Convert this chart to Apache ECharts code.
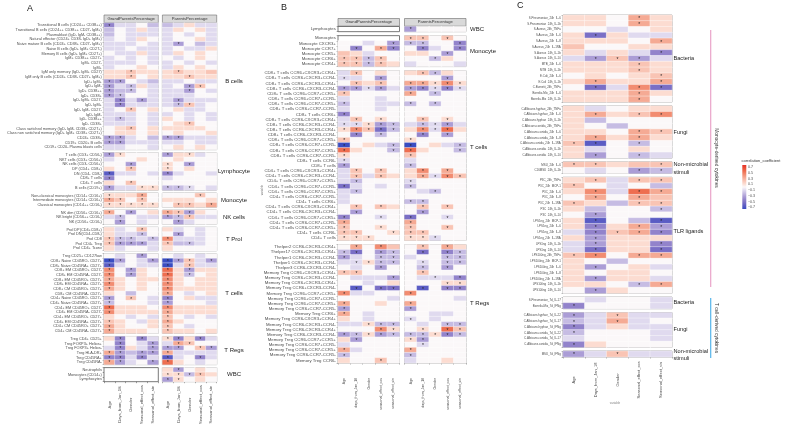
<!DOCTYPE html>
<html>
<head>
<meta charset="utf-8">
<script src="https://cdn.jsdelivr.net/npm/echarts@6/dist/echarts.min.js"></script>
<style>
html,body{margin:0;padding:0;background:#fff}
#chart{width:795px;height:428px}
</style>
</head>
<body>
<div id="chart"></div>
<script>
// correlation heatmaps (values in tenths of the coefficient, "*" = significant)
const colsA = ['Age', 'Days_from_Jan_18', 'Gender', 'Seasonal_effect_cos', 'Seasonal_effect_sin'];
const colsB = ['Age', 'days_from_Jan_18', 'Gender', 'seasonal_effect_cos', 'seasonal_effect_sin'];
const colsC = ['Age', 'Days_from_Jan_18', 'Gender', 'Seasonal_effect_cos', 'Seasonal_effect_sin'];
const legendTicks = [0.7, 0.5, 0.3, 0.1, -0.1, -0.3, -0.5, -0.7];
const N = null;

// ---------- panel A ----------
const aBcellRows = ['Transitional B cells (CD24++ CD38++)', 'Transitional B cells (CD24++ CD38++ CD27- IgM+)', 'Plasmablast (IgD- IgM- CD38++)', 'Natural effector (CD24+ CD38- IgD+ IgM+)', 'Naive mature B cells (CD24+ CD38+ CD27- IgM+)', 'Naive B cells (IgD+ IgM+ CD27-)', 'Memory B cells (IgD+ IgM+ CD27+)', 'IgM+ CD38++ CD27+', 'IgM+ CD27-', 'IgM+', 'IgM only memory (IgD- IgM+ CD27)', 'IgM only B cells (CD24+ CD38- CD27+ IgM+)', 'IgD+ IgM+', 'IgD+ IgM-', 'IgD+ CD38++', 'IgD+ CD38+', 'IgD- IgM+ CD27-', 'IgD- IgM+', 'IgD- IgM- CD27-', 'IgD- IgM-', 'IgD- CD38++', 'IgD- CD38+', 'Class switched memory (IgD- IgM- CD38+ CD27+)', 'Class non switched memory (IgD+ IgM+ CD38+ CD27+)', 'CD24+ CD38+', 'CD19+ CD20+ B cells', 'CD19+ CD20- Plasma blasts cells'];
const aBcellGP = [[-4,-1,-1,0,-2],[-2,0,-1,1,-1],[-2,0,-1,-1,-1],[-1,0,-1,1,0],[-1,-1,-1,0,-1],[-1,-1,0,-1,-1],[0,-1,-1,1,-1],[-1,0,-1,0,-1],[-1,-1,-1,0,-1],[-1,0,0,1,0],[1,1,2,1,1],[1,1,2,0,1],[-3,-3,0,-1,-2],[-3,-1,-2,1,-1],[-3,-2,-2,0,-1],[-3,-2,0,0,-1],[-1,-4,-1,-3,-1],[-1,-4,-1,-1,-1],[-1,0,2,0,1],[-1,-1,-1,0,-1],[-1,-2,-1,0,-1],[-1,-1,-1,0,-1],[0,1,2,0,1],[0,1,1,0,1],[-3,-3,-1,0,-2],[-3,-3,-1,-1,-1],[-1,-1,0,0,-1]];
const aBcellGPSig = ['*....','.....','.....','.....','.....','.....','.....','.....','.....','.....','..*..','..*..','**...','*.*..','*.*..','**...','.*.*.','.*...','..*..','.....','.*...','.....','..*..','.....','**...','**...','.....'];
const aBcellPP = [[-2,-1,1,-1,-1],[-1,1,0,1,-1],[-1,0,-1,0,-1],[-1,0,0,1,-1],[-1,-3,0,-2,-1],[-1,0,-1,-1,1],[-1,1,0,1,0],[0,-1,0,1,0],[-1,0,-1,0,-1],[-1,1,0,1,0],[1,2,1,1,2],[1,1,2,1,1],[-1,-1,0,-1,-1],[-1,0,-3,2,0],[-1,-1,-3,0,-1],[-1,-1,-1,0,0],[-1,-3,-1,-1,-1],[-1,-2,2,-1,0],[0,1,-1,-1,0],[-1,0,-1,0,-1],[1,0,-1,0,-1],[0,1,2,0,0],[1,1,1,1,0],[0,1,0,0,1],[-3,-3,-1,-1,-1],[-1,-1,0,-1,-1],[0,1,0,1,0]];
const aBcellPPSig = ['.....','.....','.....','.....','.*...','.....','.....','.....','.....','.....','.*...','..*..','.....','..**.','..*..','.....','.*...','.**..','.....','.....','.....','..*..','.....','.....','**...','.....','.....'];

const aLymphRows = ['T cells (CD3+ CD56-)', 'NKT cells (CD3+ CD56+)', 'NK cells (CD3- CD56+)', 'DP (CD4+ CD8+)', 'DN (CD4- CD8-)', 'CD8+ T cells', 'CD4+ T cells', 'B cells (CD19+)'];
const aLymphGP = [[-3,1,0,0,0],[-1,0,0,1,0],[0,0,-3,0,0],[1,0,2,0,0],[-6,-1,-1,0,-1],[-4,0,0,0,0],[1,0,2,0,0],[-3,-1,-1,1,1]];
const aLymphGPSig = ['**...','.....','..*..','..*..','*....','*....','..*..','*..**'];
const aLymphPP = [[-3,1,1,-1,0],[0,1,0,0,0],[1,0,-3,0,0],[1,0,1,0,0],[-4,-1,0,0,-1],[-1,0,0,0,0],[0,0,0,0,0],[-2,-2,-1,0,-1]];
const aLymphPPSig = ['*.*..','.....','*.*..','*....','*....','.....','.....','***..'];

const aMonoRows = ['Non-classical monocytes (CD14+ CD16+)', 'Intermediate monocytes (CD14+ CD16+)', 'Classical monocytes (CD14++ CD16-)'];
const aMonoGP = [[1,1,1,3,0],[3,2,0,2,0],[1,1,1,1,1]];
const aMonoGPSig = ['*..*.','**.*.','*****'];
const aMonoPP = [[0,0,0,2,0],[1,1,1,0,1],[0,2,2,1,3]];
const aMonoPPSig = ['...*.','.....','.**.*'];

const aNKRows = ['NK dim (CD56+ CD16+)', 'NK bright (CD56++ CD16-)', 'NK (CD56+ CD16-)'];
const aNKGP = [[3,0,-3,0,1],[-1,-2,0,-1,-1],[0,-3,0,-1,0]];
const aNKGPSig = ['*.*..','.*...','.*...'];
const aNKPP = [[3,2,-3,1,0],[-3,-2,2,-1,-1],[0,-3,-1,0,0]];
const aNKPPSig = ['***..','***..','.*...'];

const aProlRows = ['Prol DP(CD4+CD8+)', 'Prol DN(CD4-CD8-)', 'Prol CD8', 'Prol CD4+ Treg', 'Prol CD4+ Tconv'];
const aProlGP = [[1,-1,0,2,0],[1,-1,-1,-2,0],[2,-2,-2,-1,-2],[2,-3,-3,-3,-1],[1,-1,0,0,-1]];
const aProlGPSig = ['...*.','...*.','***.*','****.','.....'];
const aProlPP = [[1,-1,0,-1,0],[0,-3,0,-1,0],[4,-1,-1,-1,0],[2,-2,-2,-1,0],[1,0,0,0,0]];
const aProlPPSig = ['.....','.*...','*....','*.*..','.....'];

const aTcellRows = ['Treg CD25+ CD127low', 'CD8+ Naive CD45RO- CD27+', 'CD8+ Naive CD45RA+ CD27+', 'CD8+ EM CD45RO+ CD27-', 'CD8+ EM CD45RA- CD27-', 'CD8+ EM CD45RO+ CD27+', 'CD8+ EM CD45RA+ CD27+', 'CD8+ CM CD45RO+ CD27+', 'CD8+ CM CD45RA- CD27+', 'CD4+ Naive CD45RO- CD27+', 'CD4+ Naive CD45RA+ CD27+', 'CD4+ EM CD45RO+ CD27-', 'CD4+ EM CD45RA- CD27-', 'CD4+ EM CD45RO+ CD27+', 'CD4+ EM CD45RA+ CD27+', 'CD4+ CM CD45RO+ CD27+', 'CD4+ CM CD45RA- CD27+'];
const aTcellGP = [[0,-1,0,-3,0],[-7,-3,0,-1,-3],[-6,-1,0,-1,-1],[4,0,-3,1,0],[4,0,-3,1,0],[3,1,0,1,1],[4,1,0,1,0],[3,1,0,1,0],[1,0,-2,0,0],[-3,0,2,0,-1],[-2,0,0,0,-1],[5,1,1,1,0],[4,1,1,1,1],[1,0,-1,0,-1],[2,1,0,-1,1],[3,1,0,0,1],[3,1,1,1,0]];
const aTcellGPSig = ['...*.','**..*','*....','*.*..','*.*..','*....','*....','*....','.....','*.*..','*....','*....','*....','.....','*....','*....','*....'];
const aTcellPP = [[0,-1,0,-1,0],[-7,-3,2,-1,-3],[-7,-1,2,-1,-1],[5,1,-3,1,1],[5,1,-2,0,1],[4,1,0,1,1],[4,1,0,1,1],[4,1,1,1,1],[3,0,-1,0,1],[-4,0,1,-1,-1],[-3,0,0,0,-1],[4,1,1,1,1],[3,1,1,1,1],[2,0,-1,0,-1],[3,1,0,0,0],[2,0,-1,0,0],[2,1,1,0,1]];
const aTcellPPSig = ['.....','***.*','*.*..','*.*..','*.*..','*....','*....','*....','*....','*....','*....','*....','*....','*....','*....','*....','*....'];

const aTregRows = ['Treg CD4+ CD25+', 'Treg FOXP3+ Helios+', 'Treg FOXP3+ Helios-', 'Treg HLA-DR+', 'Treg CD45RA+', 'Treg CD45RA-'];
const aTregGP = [[1,-4,0,-4,-1],[0,-4,0,-1,-3],[-1,-4,1,-1,-3],[3,-3,-2,-3,-3],[-4,-4,-1,-4,-1],[3,-3,-1,0,-3]];
const aTregGPSig = ['.*.*.','.*..*','.*..*','**.**','**.*.','**..*'];
const aTregPP = [[1,-4,1,-4,-1],[-1,3,2,0,0],[-3,-3,0,2,-3],[3,-1,-1,-1,-1],[-6,-1,0,-4,-1],[5,1,0,-1,0]];
const aTregPPSig = ['**.*.','.**..','**.**','*....','*..*.','*....'];

const aWbcRows = ['Neutrophils', 'Monocytes (CD14+)', 'Lymphocytes'];
const aWbcGP = [[N,N,N,N,N],[N,N,N,N,N],[N,N,N,N,N]];
const aWbcPP = [[1,-3,0,1,0],[1,1,-2,2,1],[-3,1,0,1,0]];
const aWbcPPSig = ['.*...','****.','**...'];

// ---------- panel B ----------
const bWbcRows = ['Lymphocytes'];
const bWbcGP = [[N,N,N,N,N]];
const bWbcPP = [[-3,0,0,0,0]];
const bWbcPPSig = ['*....'];

const bMonoRows = ['Monocytes', 'Monocyte CXCR3+', 'Monocyte CCR7+', 'Monocyte CCR5+', 'Monocyte CCR6+', 'Monocyte CCR4+'];
const bMonoGP = [[N,N,N,N,N],[0,0,-1,0,-3],[0,-4,0,3,-4],[2,1,-1,0,0],[2,2,-2,2,0],[2,2,-2,2,1]];
const bMonoGPSig = ['.....','....*','.*.**','.....','****.','****.'];
const bMonoPP = [[2,2,0,2,0],[-2,-2,0,0,-4],[0,-4,-1,0,-4],[1,1,0,-3,0],[0,0,-2,1,0],[-1,0,0,0,-1]];
const bMonoPPSig = ['**.*.','**..*','.*..*','...*.','..*..','.....'];

const bTcellRows = ['CD8+ T cells CCR6+CXCR3+CCR4+', 'CD8+ T cells CCR6+CXCR3+CCR4-', 'CD8+ T cells CCR6+CXCR3-CCR4+', 'CD8+ T cells CCR6+CXCR3-CCR4-', 'CD8+ T cells CCR6+CCR7+CCR5+', 'CD8+ T cells CCR6+CCR7+CCR5-', 'CD8+ T cells CCR6+CCR7-CCR5+', 'CD8+ T cells CCR6+CCR7-CCR5-', 'CD8+ T cells CCR6+', 'CD8+ T cells CCR6-CXCR3+CCR4+', 'CD8+ T cells CCR6-CXCR3+CCR4-', 'CD8+ T cells CCR6-CXCR3-CCR4+', 'CD8+ T cells CCR6-CXCR3-CCR4-', 'CD8+ T cells CCR6-CCR7+CCR5+', 'CD8+ T cells CCR6-CCR7+CCR5-', 'CD8+ T cells CCR6-CCR7-CCR5+', 'CD8+ T cells CCR6-CCR7-CCR5-', 'CD8+ T cells CCR6-', 'CD8+ T cells', 'CD4+ T cells CCR6+CXCR3+CCR4+', 'CD4+ T cells CCR6+CXCR3+CCR4-', 'CD4+ T cells CCR6+CCR7+CCR5+', 'CD4+ T cells CCR6+CCR7+CCR5-', 'CD4+ T cells CCR6+CCR7-CCR5+', 'CD4+ T cells CCR6+CCR7-CCR5-', 'CD4+ T cells CCR6+', 'CD4+ T cells CCR6-CXCR3+CCR4+', 'CD4+ T cells CCR6-CXCR3+CCR4-', 'CD4+ T cells CCR6-CCR7+CCR5+', 'CD4+ T cells CCR6-CCR7+CCR5-', 'CD4+ T cells CCR6-CCR7-CCR5+', 'CD4+ T cells CCR6-', 'CD4+ T cells'];
const bTcellGP = [[-1,2,0,1,0],[-1,-1,0,-3,0],[0,2,1,2,0],[-3,-3,-1,-3,-1],[2,0,0,0,0],[-1,0,0,-1,0],[-2,0,0,-1,-1],[-1,0,0,-1,0],[-4,0,0,0,0],[-1,2,0,1,0],[-1,-1,1,-3,-2],[1,4,2,-5,-2],[0,-4,0,-2,0],[2,0,0,0,0],[-7,0,1,-1,-2],[5,1,0,0,-2],[1,0,0,0,0],[-1,0,0,0,0],[-3,0,0,0,0],[-1,2,0,2,0],[-1,2,-1,2,1],[-1,-2,0,0,0],[-5,-1,0,-1,0],[-1,-2,0,0,0],[-1,0,0,0,0],[-1,0,0,0,0],[0,2,0,2,1],[0,-3,0,0,0],[-4,0,0,-1,0],[3,0,0,0,0],[2,0,0,1,0],[2,2,0,0,1],[1,1,1,0,0]];
const bTcellGPSig = ['.*...','*..*.','.*.*.','****.','*....','.....','*....','.....','*....','.*.*.','*****','*****','.*.*.','*....','*...*','*...*','*....','*....','*....','.*.*.','.*.*.','.*...','*....','.*...','.....','.....','.*.*.','.*...','*..*.','*....','*..*.','**..*','***..'];
const bTcellPP = [[1,2,-2,1,0],[0,0,0,-3,0],[3,3,1,4,1],[-3,-4,-1,-4,-1],[3,0,-2,0,0],[0,0,0,0,0],[-2,0,-2,0,0],[0,0,0,0,0],[0,0,0,0,0],[0,2,0,1,0],[-1,-2,-1,-3,-1],[1,4,-1,5,1],[0,-4,0,-3,0],[1,0,0,0,0],[-7,0,1,-1,-2],[5,1,0,0,-2],[2,0,0,0,0],[-1,0,0,0,0],[-2,0,0,0,0],[1,4,0,3,0],[1,3,-1,4,2],[-1,0,0,0,0],[-2,0,0,0,0],[0,-1,-2,0,0],[0,0,0,0,0],[-2,-2,0,0,0],[0,2,0,2,0],[0,-3,0,0,0],[-5,0,0,-1,0],[3,0,0,0,0],[2,0,0,2,0],[2,2,0,0,0],[1,1,-1,0,0]];
const bTcellPPSig = ['.**..','...*.','*****','*****','*.*..','.....','*.*..','.....','.....','.*.*.','.***.','.***.','.*.*.','*....','*...*','*...*','*....','.....','*....','.*.*.','.****','*....','*....','..*..','.....','**...','.*.*.','.*...','*..*.','*....','*..*.','**...','***..'];

const bTregRows = ['Thelper2 CCR6-CXCR3-CCR4+', 'Thelper17 CCR6+CXCR3-CCR4+', 'Thelper1 CCR6-CXCR3+CCR4-', 'Thelper1 CCR6+CXCR3+CCR4-', 'Thelper3 CCR6-CXCR3-CCR4-', 'Memory Treg CCR6+CXCR3+CCR4+', 'Memory Treg CCR6+CXCR3+CCR4-', 'Memory Treg CCR6+CXCR3-CCR4+', 'Memory Treg CCR6+CXCR3-CCR4-', 'Memory Treg CCR6+CCR7+CCR5+', 'Memory Treg CCR6+CCR7+CCR5-', 'Memory Treg CCR6+CCR7-CCR5+', 'Memory Treg CCR6+CCR7-CCR5-', 'Memory Treg CCR6+', 'Memory Treg CCR6-CXCR3+CCR4+', 'Memory Treg CCR6-CXCR3+CCR4-', 'Memory Treg CCR6-CXCR3-CCR4+', 'Memory Treg CCR6-CXCR3-CCR4-', 'Memory Treg CCR6-CCR7+CCR5+', 'Memory Treg CCR6-CCR7+CCR5-', 'Memory Treg CCR6-CCR7-CCR5+', 'Memory Treg CCR6-CCR7-CCR5-', 'Memory Treg CCR6-'];
const bTregGP = [[0,3,0,4,2],[-2,-5,0,-3,-2],[-3,-1,0,-2,-2],[-1,-1,1,-2,-2],[0,-1,0,-3,0],[2,2,0,0,0],[0,-1,-1,-1,-3],[0,0,-1,0,1],[0,-6,0,-5,-5],[4,-1,-1,0,0],[0,0,0,0,-1],[3,0,0,1,0],[-3,0,0,0,0],[3,0,-1,0,0],[1,0,-1,0,0],[-1,-1,1,-2,-2],[0,0,0,4,1],[-3,-2,1,-3,-2],[1,-3,0,0,0],[-1,0,0,0,0],[3,-1,0,0,0],[-2,0,0,0,0],[1,0,0,2,0]];
const bTregGPSig = ['.*.*.','**.**','*..**','.****','...*.','**...','....*','.....','.*.**','*....','.....','*....','*....','*....','.....','..***','...**','*****','.*...','.....','*....','*....','...*.'];
const bTregPP = [[0,2,0,3,1],[0,-5,0,-4,-2],[-1,0,0,-2,-2],[0,-1,0,-2,-2],[0,-2,0,-3,0],[0,2,0,0,0],[0,-1,-1,-1,-4],[0,0,0,1,1],[0,-6,0,-4,-4],[4,0,0,0,0],[0,0,0,0,-1],[3,0,0,0,0],[-3,0,0,0,0],[0,0,-1,-1,0],[-1,0,-1,0,0],[0,-1,0,-2,-2],[0,1,0,5,2],[-2,-2,1,-4,-2],[1,-3,0,0,0],[0,-1,0,0,0],[3,0,0,0,0],[-2,0,0,0,0],[-1,0,0,1,0]];
const bTregPPSig = ['.*.*.','.*.**','...**','.*.**','.*.*.','.*...','..*.*','...**','.*.**','*....','.....','*....','*....','.....','*....','...**','.*.**','*****','**...','.*...','*....','*....','.....'];

// ---------- panel C ----------
const cBactRows = ['S.Pneumoniae_24h_IL-6', 'S.Pneumoniae_24h_IL-1b', 'S.Aureus_24h_TNFa', 'S.Aureus_24h_IL-6', 'S.Aureus_24h_IL-8', 'S.Aureus_24h_IL-1RA', 'S.Aureus_24h_IL-1b', 'S.Aureus_24h_IL-10', 'MTB_24h_IL-6', 'MTB_24h_IL-1b', 'E.Coli_24h_IL-6', 'E.Coli_24h_IL-1b', 'C.Burnetii_24h_TNFa', 'Borrelia.Mix_24h_IL-6', 'Borrelia.Mix_24h_IL-1b'];
const cBactVals = [[1,1,0,3,1],[1,1,0,3,1],[0,0,-1,0,1],[1,-5,1,-1,-1],[1,1,1,0,3],[2,0,0,1,1],[1,-1,1,-1,-4],[-1,-3,2,-3,-1],[1,1,1,2,1],[1,1,1,2,1],[0,1,0,1,2],[1,3,1,1,3],[0,-5,-1,4,-5],[1,1,1,3,1],[1,1,1,3,0]];
const cBactSig = ['...*.','...*.','.....','.*...','....*','.....','....*','.***.','...*.','...*.','....*','.*..*','.*.**','...*.','...*.'];

const cFungiRows = ['C.Albicans.hyphae_24h_TNFa', 'C.Albicans.hyphae_24h_IL-6', 'C.Albicans.hyphae_24h_IL-1b', 'C.Albicans.conidia_24h_TNFa', 'C.Albicans.conidia_24h_IL-6', 'C.Albicans.conidia_24h_IL-8', 'C.Albicans.conidia_24h_IL-1RA', 'C.Albicans.conidia_24h_IL-1b', 'C.Albicans.conidia_24h_IL-10'];
const cFungiVals = [[1,-1,0,1,1],[1,3,1,2,4],[1,-2,0,0,0],[1,0,-2,0,0],[1,1,0,3,2],[1,3,1,3,1],[2,-6,0,-2,0],[1,-1,0,1,0],[1,-3,0,-2,-1]];
const cFungiSig = ['.....','.*.**','.....','.....','...**','.*.*.','**.*.','.....','.*.*.'];

const cNonRows = ['MSU_24h_IL-6', 'C16MSU_24h_IL-1b'];
const cNonVals = [[2,2,1,2,2],[0,-1,0,-3,-2]];
const cNonSig = ['**..*','...**'];

const cTlrRows = ['P3C_24h_TNFa', 'P3C_24h_MCP-1', 'P3C_24h_IL-6', 'P3C_24h_IL-8', 'P3C_24h_IL-1RA', 'P3C_24h_IL-1b', 'P3C_24h_IL-10', 'LPS1ng_24h_MCP-1', 'LPS1ng_24h_IL-6', 'LPS1ng_24h_IL-8', 'LPS1ng_24h_IL-1RA', 'LPS1ng_24h_IL-1b', 'LPS1ng_24h_IL-10', 'LPS100ng_24h_TNFa', 'LPS100ng_24h_MCP-1', 'LPS100ng_24h_IL-6', 'LPS100ng_24h_IL-8', 'LPS100ng_24h_IL-1RA', 'LPS100ng_24h_IL-1b', 'LPS100ng_24h_IL-10'];
const cTlrVals = [[1,2,-1,2,2],[2,0,-1,0,-2],[1,4,-1,5,3],[0,3,0,3,2],[2,1,-2,2,2],[1,-2,0,0,-2],[0,-3,0,0,0],[1,-6,0,-2,-6],[1,-4,1,3,-3],[-1,-4,2,3,-4],[1,-3,1,1,1],[-1,-3,1,1,-4],[-1,-5,1,1,-5],[2,4,0,3,3],[1,0,-2,0,0],[1,-3,0,1,-1],[1,0,1,1,0],[1,-3,1,1,-1],[1,1,0,-2,3],[0,-3,1,0,0]];
const cTlrSig = ['.*.**','*....','.*.**','.*.*.','*..**','....*','.*...','.*..*','.*.**','.****','.*...','.*..*','.*..*','**.**','.....','.*...','.....','.*...','...**','.*...'];

const cBact7Rows = ['S.Pneumoniae_7d_IL-17', 'Borrelia.Mix_7d_IFNg'];
const cBact7Vals = [[0,-1,0,0,-1],[-4,0,0,0,-1]];
const cBact7Sig = ['.....','*....'];

const cFungi7Rows = ['C.Albicans.hyphae_7d_IL-22', 'C.Albicans.hyphae_7d_IL-17', 'C.Albicans.hyphae_7d_IFNg', 'C.Albicans.conidia_7d_IL-22', 'C.Albicans.conidia_7d_IL-17', 'C.Albicans.conidia_7d_IFNg'];
const cFungi7Vals = [[-3,-1,2,-1,-1],[-2,-1,3,-1,0],[-4,-1,1,-1,-1],[-2,0,0,0,-1],[-1,0,0,0,-1],[-4,1,0,0,0]];
const cFungi7Sig = ['*.*..','*.*..','*....','*....','.....','*....'];

const cNon7Rows = ['MSU_7d_IFNg'];
const cNon7Vals = [[-3,-1,2,-1,-1]];
const cNon7Sig = ['*.*..'];

// colour scale from -0.7 (blue) to 0.7 (red)
const scaleColors = ['#3a4dc2', '#5a5cc4', '#7a6fc6', '#9283cb', '#ab9dd6', '#c6bce3', '#e0daef', '#fbf8f9', '#fcdcd1', '#f9c4b4', '#f5aa94', '#f28c71', '#ee6e50', '#ea5038', '#e53025'];

const FONT = '"Liberation Sans", Arial, sans-serif';
const option = {
  animation: false,
  backgroundColor: '#fff',
  textStyle: { fontFamily: FONT },
  visualMap: { type: 'continuous', show: false, min: -7, max: 7, dimension: 2, inRange: { color: scaleColors } },
  grid: [], xAxis: [], yAxis: [], series: [], graphic: []
};

function addText(x, y, text, size, extra) {
  option.graphic.push({
    type: 'text', x: x, y: y, silent: true, rotation: (extra && extra.rotation) || 0,
    style: Object.assign({ text: text, fontSize: size, fontFamily: FONT, fill: '#1a1a1a', align: 'left', verticalAlign: 'middle' }, extra && extra.style)
  });
}

function addPanel(p) {
  const gi = option.grid.length;
  option.grid.push({
    left: p.left, top: p.top, width: p.width, height: p.height,
    show: true, backgroundColor: '#fff', borderColor: '#6b6b6b', borderWidth: 0.9,
    containLabel: false, outerBoundsMode: 'none'
  });
  option.xAxis.push({
    gridIndex: gi, type: 'category', data: p.cols,
    axisLine: { show: false }, splitLine: { show: false },
    axisTick: { show: p.showX, length: 1.5, lineStyle: { color: '#444', width: 0.5 } },
    axisLabel: { show: p.showX, interval: 0, rotate: 90, fontSize: p.xFont, color: '#4d4d4d', margin: p.xMargin, align: p.xAlign, hideOverlap: false }
  });
  option.yAxis.push({
    gridIndex: gi, type: 'category', data: p.rows, inverse: true,
    axisLine: { show: false }, splitLine: { show: false },
    axisTick: { show: p.showY, length: 1.3, lineStyle: { color: '#444', width: 0.5 } },
    axisLabel: { show: p.showY, interval: 0, fontSize: p.yFont, color: '#4d4d4d', margin: 2.2, hideOverlap: false }
  });
  const data = [];
  p.vals.forEach((row, y) => row.forEach((v, x) => {
    if (v !== null) data.push([x, y, v, p.sig ? (p.sig[y][x] === '*' ? 1 : 0) : 0]);
  }));
  option.series.push({
    type: 'heatmap', xAxisIndex: gi, yAxisIndex: gi, data: data,
    itemStyle: { borderColor: '#fff', borderWidth: 0.4 },
    emphasis: { disabled: true },
    label: { show: true, fontSize: p.starFont, color: '#222', offset: [0, 1], formatter: d => (d.data[3] ? '*' : '') }
  });
}

function layoutFacet(groups, cfg) {
  let y = cfg.top;
  groups.forEach((g, gi) => {
    const h = g.rows.length * cfg.rowH;
    cfg.panels.forEach((pn, pi) => {
      addPanel({
        left: pn.left, top: y, width: pn.width, height: h,
        rows: g.rows, cols: cfg.cols, vals: g.vals[pi], sig: g.sig[pi],
        showY: pi === 0, showX: gi === groups.length - 1,
        xFont: cfg.xFont, yFont: cfg.yFont, xMargin: cfg.xMargin, xAlign: cfg.xAlign, starFont: cfg.starFont
      });
    });
    const cy = y + h / 2 + (g.dy || 0);
    const lines = g.name.split('\n');
    lines.forEach((ln, li) => {
      const off = lines.length > 1 ? (li === 0 ? -2.8 : 4.8) : 0;
      addText(cfg.labelX, cy + off, ln, cfg.labelFont, { style: { align: cfg.labelAlign } });
    });
    y += h + cfg.gap;
  });
}

// panel A
layoutFacet([
  { name: 'B cells', rows: aBcellRows, vals: [aBcellGP, aBcellPP], sig: [aBcellGPSig, aBcellPPSig], dy: -5 },
  { name: 'Lymphocyte', rows: aLymphRows, vals: [aLymphGP, aLymphPP], sig: [aLymphGPSig, aLymphPPSig] },
  { name: 'Monocyte', rows: aMonoRows, vals: [aMonoGP, aMonoPP], sig: [aMonoGPSig, aMonoPPSig] },
  { name: 'NK cells', rows: aNKRows, vals: [aNKGP, aNKPP], sig: [aNKGPSig, aNKPPSig] },
  { name: 'T Prol', rows: aProlRows, vals: [aProlGP, aProlPP], sig: [aProlGPSig, aProlPPSig] },
  { name: 'T cells', rows: aTcellRows, vals: [aTcellGP, aTcellPP], sig: [aTcellGPSig, aTcellPPSig] },
  { name: 'T Regs', rows: aTregRows, vals: [aTregGP, aTregPP], sig: [aTregGPSig, aTregPPSig] },
  { name: 'WBC', rows: aWbcRows, vals: [aWbcGP, aWbcPP], sig: [null, aWbcPPSig] }
], {
  top: 23, rowH: 4.69, gap: 3, cols: colsA,
  panels: [{ left: 104, width: 54.3 }, { left: 162.4, width: 54.3 }],
  xFont: 4.2, yFont: 3.8, xMargin: 23, xAlign: 'center', starFont: 4.5,
  labelX: 234, labelAlign: 'center', labelFont: 6
});

// panel B
layoutFacet([
  { name: 'WBC', rows: bWbcRows, vals: [bWbcGP, bWbcPP], sig: [null, bWbcPPSig] },
  { name: 'Monocyte', rows: bMonoRows, vals: [bMonoGP, bMonoPP], sig: [bMonoGPSig, bMonoPPSig] },
  { name: 'T cells', rows: bTcellRows, vals: [bTcellGP, bTcellPP], sig: [bTcellGPSig, bTcellPPSig], dy: -8 },
  { name: 'T Regs', rows: bTregRows, vals: [bTregGP, bTregPP], sig: [bTregGPSig, bTregPPSig] }
], {
  top: 26.5, rowH: 5.15, gap: 4, cols: colsB,
  panels: [{ left: 338, width: 61.5 }, { left: 404.5, width: 61.5 }],
  xFont: 3.5, yFont: 4.3, xMargin: 15, xAlign: 'right', starFont: 5,
  labelX: 470, labelAlign: 'left', labelFont: 6
});

// panel C
layoutFacet([
  { name: 'Bacteria', rows: cBactRows, vals: [cBactVals], sig: [cBactSig] },
  { name: 'Fungi', rows: cFungiRows, vals: [cFungiVals], sig: [cFungiSig] },
  { name: 'Non-microbial\nstimuli', rows: cNonRows, vals: [cNonVals], sig: [cNonSig] },
  { name: 'TLR ligands', rows: cTlrRows, vals: [cTlrVals], sig: [cTlrSig], dy: -4 },
  { name: 'Bacteria', rows: cBact7Rows, vals: [cBact7Vals], sig: [cBact7Sig] },
  { name: 'Fungi', rows: cFungi7Rows, vals: [cFungi7Vals], sig: [cFungi7Sig] },
  { name: 'Non-microbial\nstimuli', rows: cNon7Rows, vals: [cNon7Vals], sig: [cNon7Sig] }
], {
  top: 15.1, rowH: 5.8, gap: 3.8, cols: colsC,
  panels: [{ left: 563, width: 109 }],
  xFont: 4, yFont: 2.9, xMargin: 23, xAlign: 'center', starFont: 5,
  labelX: 673.5, labelAlign: 'left', labelFont: 5.6
});

// facet strips
function addStrip(x, y, w, h, text, size) {
  option.graphic.push({ type: 'rect', silent: true, shape: { x: x, y: y, width: w, height: h }, style: { fill: '#d9d9d9', stroke: '#6b6b6b', lineWidth: 0.6 } });
  addText(x + w / 2, y + h / 2, text, size, { style: { align: 'center', fill: '#333' } });
}
addStrip(104, 15, 54.3, 7.8, 'GrandParentsPercentage', 4.2);
addStrip(162.4, 15, 54.3, 7.8, 'ParentsPercentage', 4.2);
addStrip(338, 18.5, 61.5, 7.6, 'GrandParentsPercentage', 4.1);
addStrip(404.5, 18.5, 61.5, 7.6, 'ParentsPercentage', 4.1);

// panel letters
addText(27, 9, 'A', 9);
addText(281, 8, 'B', 9);
addText(517, 6, 'C', 9);

// cytokine source brackets
option.graphic.push({ type: 'line', silent: true, shape: { x1: 710.7, y1: 30, x2: 710.7, y2: 287 }, style: { stroke: '#e9a3c9', lineWidth: 1.2 } });
option.graphic.push({ type: 'line', silent: true, shape: { x1: 710.7, y1: 298, x2: 710.7, y2: 358 }, style: { stroke: '#56b4e9', lineWidth: 1.2 } });
addText(716, 158, 'Monocyte-derived cytokines', 4.8, { rotation: -Math.PI / 2, style: { align: 'center', fill: '#333' } });
addText(716, 328, 'T cell-derived cytokines', 4.8, { rotation: -Math.PI / 2, style: { align: 'center', fill: '#333' } });

// faint axis titles
addText(615, 403, 'variable', 3, { style: { align: 'center', fill: '#888' } });
addText(262, 190, 'variable', 3, { rotation: Math.PI / 2, style: { align: 'center', fill: '#888' } });

// colour legend
addText(741.5, 161, 'correlation_coefficient', 4, { style: { fill: '#333' } });
option.graphic.push({
  type: 'rect', silent: true, shape: { x: 742.3, y: 165, width: 4, height: 44 },
  style: { fill: new echarts.graphic.LinearGradient(0, 0, 0, 1, scaleColors.slice().reverse().map((c, i, a) => ({ offset: i / (a.length - 1), color: c }))) }
});
legendTicks.forEach((t, i) => {
  addText(748, 167 + i * 5.76, (t > 0 ? '' : '\u2212') + Math.abs(t).toFixed(1), 3.6, { style: { fill: '#4d4d4d' } });
});

const chart = echarts.init(document.getElementById('chart'), null, { renderer: 'canvas' });
chart.setOption(option);
</script>
</body>
</html>
